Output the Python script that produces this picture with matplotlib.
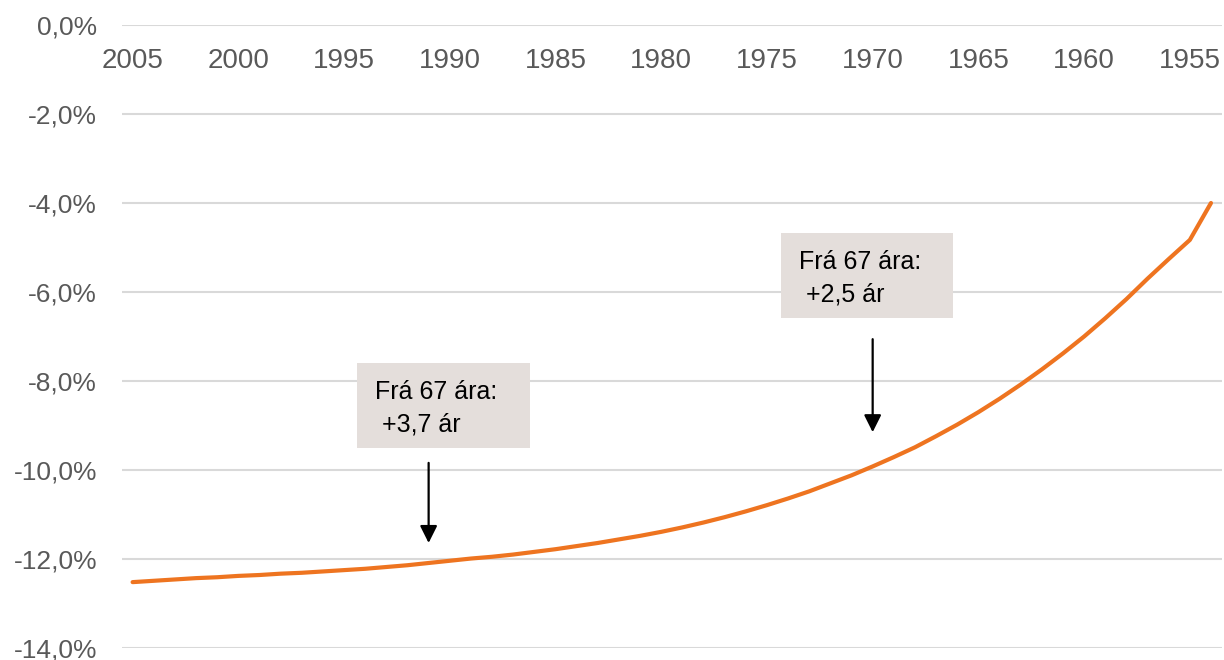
import matplotlib.pyplot as plt
from matplotlib.patches import Rectangle
import numpy as np

# Árgangar (fæðingarár) og breyting í %
ar = list(range(2005, 1953, -1))
breyting = [
    -12.52, -12.49, -12.46, -12.43, -12.41, -12.38, -12.36, -12.33, -12.31, -12.28,
    -12.25, -12.22, -12.18, -12.14, -12.09, -12.04, -11.99, -11.95, -11.90, -11.84,
    -11.78, -11.71, -11.64, -11.56, -11.48, -11.39, -11.29, -11.18, -11.06, -10.93,
    -10.79, -10.64, -10.48, -10.30, -10.12, -9.92, -9.71, -9.49, -9.24, -8.98,
    -8.70, -8.40, -8.08, -7.74, -7.38, -7.00, -6.59, -6.16, -5.70, -5.26,
    -4.83, -4.00,
]
x_ticks = [2005, 2000, 1995, 1990, 1985, 1980, 1975, 1970, 1965, 1960, 1955]
y_ticks = [0, -2, -4, -6, -8, -10, -12, -14]

# Athugasemdir: (texti, ár örvar, örvar frá, örvar til)
athugasemdir = [
    ("Frá 67 ára:\n +3,7 ár", 1991, -9.84, -11.64),
    ("Frá 67 ára:\n +2,5 ár", 1970, -7.06, -9.15),
]

plt.rcParams['font.family'] = ['Liberation Sans', 'DejaVu Sans']

fig = plt.figure(figsize=(12.24, 6.6), dpi=100)
ax = fig.add_axes([0.0997, 0.0182, 0.8983, 0.9439])

ax.plot(ar, breyting, color='#EE7420', linewidth=3, solid_capstyle='round')

ax.set_xlim(2005.5, 1953.5)
ax.set_ylim(-14, 0)

ax.set_yticks(y_ticks)
ax.set_yticklabels([f"{v:.1f}%".replace('.', ',') for v in y_ticks])
ax.set_xticks(x_ticks)
ax.set_xticklabels([str(v) for v in x_ticks])

ax.grid(axis='y', color='#D9D9D9', linewidth=1.5)
ax.set_axisbelow(True)
for s in ax.spines.values():
    s.set_visible(False)

ax.tick_params(axis='y', length=0, pad=18, labelsize=19, labelcolor='#595959')
ax.tick_params(axis='x', length=0, bottom=False, labelbottom=False,
               top=True, labeltop=True, pad=-35, labelsize=20, labelcolor='#595959')

# Kassar með texta og örvar
boxes = [(1994.4, 1986.2, -7.6, -9.5), (1974.35, 1966.2, -4.67, -6.58)]
for (texti, xa, y0, y1), (bx0, bx1, by0, by1) in zip(athugasemdir, boxes):
    ax.add_patch(Rectangle((bx0, by1), bx1 - bx0, by0 - by1,
                           facecolor='#E4DEDB', edgecolor='none', zorder=3))
    ax.text(bx0 - 0.85, by0 - 0.38, texti, fontsize=18, color='black',
            va='top', ha='left', linespacing=1.45, zorder=4)
    ax.annotate('', xy=(xa, y1), xytext=(xa, y0),
                arrowprops=dict(arrowstyle='-|>', color='black', lw=1.6,
                                mutation_scale=26, shrinkA=0, shrinkB=0),
                zorder=4)

fig.savefig('out.png', dpi=100)
